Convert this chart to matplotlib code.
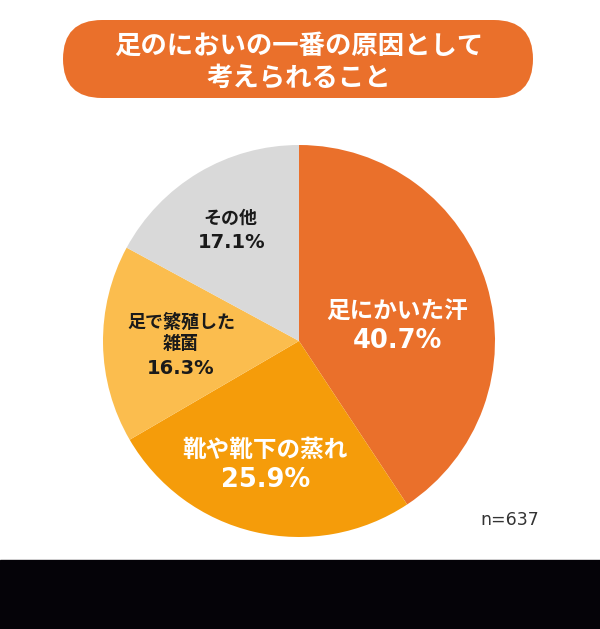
import matplotlib.pyplot as plt
from matplotlib.patches import FancyBboxPatch, Rectangle

plt.rcParams['font.family'] = ['Noto Sans CJK JP', 'DejaVu Sans']

# data
labels = ['足にかいた汗', '靴や靴下の蒸れ', '足で繁殖した\n雑菌', 'その他']
values = [40.7, 25.9, 16.3, 17.1]
colors = ['#EA702B', '#F59C0A', '#FBBD4E', '#D9D9D9']
title = '足のにおいの一番の原因として\n考えられること'
n_text = 'n=637'

W, H = 600, 629
fig = plt.figure(figsize=(W / 100, H / 100), dpi=100)
fig.patch.set_facecolor('white')

# background layer in pixel units
bg = fig.add_axes([0, 0, 1, 1])
bg.set_xlim(0, W)
bg.set_ylim(H, 0)
bg.axis('off')
bg.add_patch(Rectangle((0, 560), W, H - 560, color='#050308'))
bg.add_patch(FancyBboxPatch((63, 20), 470, 78, boxstyle='round,pad=0,rounding_size=39',
                            facecolor='#EA702B', edgecolor='none'))
bg.text(299, 62, title, ha='center', va='center', color='white', fontsize=19,
        fontweight='bold', linespacing=1.25)
bg.text(510, 520, n_text, ha='center', va='center', color='#333333', fontsize=12.5,
        family=['DejaVu Sans'])

# pie
cx, cy, r = 299, 341, 196
ax = fig.add_axes([(cx - r) / W, (H - cy - r) / H, 2 * r / W, 2 * r / H])
ax.pie(values, colors=colors, startangle=90, counterclock=False, radius=1,
       wedgeprops={'linewidth': 0})
ax.set_xlim(-1, 1)
ax.set_ylim(-1, 1)
ax.axis('off')


def px(x, y):
    return (x - cx) / r, (cy - y) / r


# label text: (name pos, pct pos, name size, pct size, colour)
spots = [((397, 311), (397, 341), 17, 18.5, 'white'),
         ((265, 450), (266, 480), 17, 18.5, 'white'),
         ((181, 333), (181, 368), 13, 14, '#1a1a1a'),
         ((230, 218), (232, 242), 13, 14, '#1a1a1a')]

for lab, val, (p1, p2, fs, fs2, col) in zip(labels, values, spots):
    ax.text(*px(*p1), lab, ha='center', va='center', fontsize=fs, fontweight='bold',
            color=col, linespacing=1.15)
    ax.text(*px(*p2), '{:.1f}%'.format(val), ha='center', va='center', fontsize=fs2,
            fontweight='bold', color=col, family=['DejaVu Sans'])

fig.savefig('out.png', dpi=100)
